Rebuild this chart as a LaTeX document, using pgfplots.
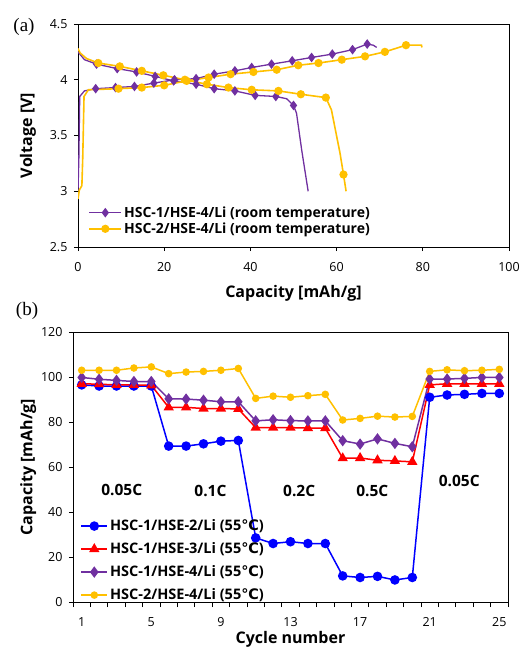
\documentclass[border=0pt]{standalone}
\usepackage{fontspec}
\setmainfont{Open Sans}
\newfontfamily\serifa{Liberation Serif}
\newfontfamily\dejavu{DejaVu Sans}
\usepackage{pgfplots}
\pgfplotsset{compat=1.18}
\definecolor{cpur}{RGB}{112,48,160}
\definecolor{corg}{RGB}{255,192,0}
\definecolor{cblu}{RGB}{0,0,255}
\definecolor{cred}{RGB}{255,0,0}
\pgfplotsset{
  common/.style={
    scale only axis,
    axis line style={black, line width=0.8pt},
    tick style={black, line width=0.8pt},
    tick align=outside,
    major tick length=4pt,
    xtick pos=bottom, ytick pos=left,
    /pgf/number format/assume math mode=true,
    ticklabel style={font=\fontsize{12.5}{14}\selectfont},
    xticklabel style={yshift=-8pt},
    yticklabel style={xshift=-3pt},
    label style={font=\bfseries\fontsize{16}{18}\selectfont},
    legend style={draw=none, fill=none},
    legend cell align=left,
  },
}
\begin{document}
\begin{tikzpicture}[x=1pt,y=1pt]
\useasboundingbox (0,0) rectangle (521,-653);
\node[font=\serifa\fontsize{19}{21}\selectfont] at (24,-27) {(a)};
\node[font=\serifa\fontsize{19}{21}\selectfont] at (27,-311) {(b)};
% ---------------- (a)
\begin{axis}[common,
  at={(78pt,-247pt)}, anchor=south west,
  width=431pt, height=223pt,
  xmin=0, xmax=100, ymin=2.5, ymax=4.5,
  xtick={0,20,...,100}, ytick={2.5,3,...,4.5},
  yticklabel style={/pgf/number format/fixed},
  xlabel={Capacity [mAh/g]}, ylabel={Voltage [V]},
  xlabel style={at={(axis description cs:0.5,0)}, anchor=center, yshift=-46pt},
  ylabel style={at={(axis description cs:-0.116,0.5)}, anchor=center},
  legend style={at={(axis description cs:0.017,0.20)}, anchor=north west, row sep=0pt, font=\bfseries\fontsize{14}{16}\selectfont},
  legend image code/.code={\draw[mark indices={2}] plot coordinates {(0pt,0pt) (16pt,0pt) (32pt,0pt)};},
]
\addplot[cpur, line width=1.3pt, mark=diamond*, mark size=3.8pt, mark options={solid}, mark indices={5,...,19}] coordinates {
(0,3.00) (0.2,3.3) (0.4,3.85) (1.5,3.90) (4.1,3.92) (8.7,3.93) (13.1,3.94) (17.6,3.97) (22.4,4.00) (27.4,4.01) (31.6,4.05) (36.4,4.08) (40.3,4.11) (44.9,4.14) (49.7,4.17) (54.2,4.20) (59.0,4.23) (63.7,4.27) (67.1,4.32) (68.5,4.31) (69.3,4.29)};
\addlegendentry{HSC-1/HSE-4/Li (room temperature)}
\addplot[cpur, line width=1.3pt, mark=diamond*, mark size=3.8pt, mark indices={3,...,12,14}, forget plot] coordinates {
(0,4.25) (1.5,4.18) (4.3,4.14) (9.1,4.10) (13.6,4.07) (17.9,4.03) (22.2,3.99) (27.4,3.96) (31.6,3.92) (36.4,3.90) (41.1,3.86) (45.9,3.85) (48.4,3.83) (50.0,3.77) (50.7,3.70) (51.9,3.37) (53.4,3.00)};
\addplot[corg, line width=1.6pt, mark=*, mark size=3.3pt, mark indices={7,...,20}] coordinates {
(0,2.93) (0.3,3.01) (0.9,3.05) (1.1,3.3) (1.4,3.85) (2.4,3.91) (9.4,3.92) (14.8,3.93) (20.0,3.95) (25.2,3.99) (30.3,4.02) (35.4,4.05) (40.7,4.07) (46.1,4.09) (51.1,4.13) (55.8,4.15) (61.2,4.18) (66.6,4.21) (71.2,4.25) (76.1,4.31) (79.7,4.31) (79.8,4.29)};
\addlegendentry{HSC-2/HSE-4/Li (room temperature)}
\addplot[corg, line width=1.6pt, mark=*, mark size=3.3pt, mark indices={4,...,14,17}, forget plot] coordinates {
(0,4.28) (0.5,4.24) (2,4.19) (4.7,4.15) (9.7,4.12) (14.8,4.08) (19.8,4.04) (24.8,4.00) (29.9,3.96) (34.9,3.93) (40.3,3.91) (46.5,3.90) (51.7,3.87) (57.5,3.84) (58.8,3.73) (60.8,3.34) (61.6,3.15) (62.2,3.00)};
\end{axis}
% ---------------- (b)
\begin{axis}[common,
  at={(73pt,-602pt)}, anchor=south west,
  width=435pt, height=270pt,
  xmin=0.5, xmax=25.5, ymin=0, ymax=120,
  xtick={1,5,...,25}, ytick={0,20,...,120},
  major x tick style={draw=none},
  minor xtick={0.5,1.5,...,25.5},
  minor tick length=5pt,
  xlabel={Cycle number}, ylabel={Capacity [mAh/g]},
  xlabel style={at={(axis description cs:0.5,0)}, anchor=center, yshift=-37pt},
  ylabel style={at={(axis description cs:-0.103,0.5)}, anchor=center},
  legend style={at={(axis description cs:0.01,0.32)}, anchor=north west, row sep=6.5pt, font=\bfseries\fontsize{14.5}{16}\selectfont},
  legend image code/.code={\draw[mark indices={2}] plot coordinates {(0pt,0pt) (13pt,0pt) (26pt,0pt)};},
]
\addplot[cblu, line width=1.5pt, mark=*, mark size=4pt] coordinates {
(1,96.5) (2,96) (3,96) (4,96) (5,96) (6,69.3) (7,69.3) (8,70.3) (9,71.5) (10,71.8) (11,28.5) (12,26) (13,26.8) (14,26) (15,26) (16,11.6) (17,10.9) (18,11.4) (19,9.8) (20,10.9) (21,91) (22,92) (23,92.3) (24,92.7) (25,92.7)};
\addlegendentry{HSC-1/HSE-2/Li (55{\dejavu ℃})}
\addplot[cred, line width=1.5pt, mark=triangle*, mark size=4.5pt] coordinates {
(1,97) (2,96.8) (3,96.5) (4,96.5) (5,96.3) (6,86.5) (7,86.5) (8,86) (9,86) (10,85.8) (11,77.5) (12,77.5) (13,77.5) (14,77.3) (15,77.3) (16,63.9) (17,64) (18,63) (19,62.7) (20,62.3) (21,96.5) (22,97) (23,97) (24,97) (25,97)};
\addlegendentry{HSC-1/HSE-3/Li (55{\dejavu ℃})}
\addplot[cpur, line width=1.5pt, mark=diamond*, mark size=4.5pt] coordinates {
(1,99.8) (2,99) (3,98.5) (4,98) (5,98) (6,90.3) (7,90.2) (8,89.7) (9,89) (10,89) (11,80.5) (12,81) (13,80.6) (14,80.5) (15,80.5) (16,71.7) (17,70.2) (18,72.5) (19,70.5) (20,69) (21,99.1) (22,99.1) (23,99.4) (24,99.8) (25,99.8)};
\addlegendentry{HSC-1/HSE-4/Li (55{\dejavu ℃})}
\addplot[corg, line width=1.5pt, mark=*, mark size=3pt] coordinates {
(1,103) (2,103) (3,103) (4,104) (5,104.5) (6,101.5) (7,102.2) (8,102.5) (9,103) (10,103.8) (11,90.5) (12,91.5) (13,91) (14,91.7) (15,92.3) (16,80.9) (17,81.6) (18,82.6) (19,82.2) (20,82.5) (21,102.5) (22,103.2) (23,102.8) (24,103) (25,103.4)};
\addlegendentry{HSC-2/HSE-4/Li (55{\dejavu ℃})}
\node[font=\bfseries\fontsize{15.5}{17}\selectfont] at (axis cs:3.3,50) {0.05C};
\node[font=\bfseries\fontsize{15.5}{17}\selectfont] at (axis cs:8.4,49.5) {0.1C};
\node[font=\bfseries\fontsize{15.5}{17}\selectfont] at (axis cs:13.5,49.5) {0.2C};
\node[font=\bfseries\fontsize{15.5}{17}\selectfont] at (axis cs:17.7,49.5) {0.5C};
\node[font=\bfseries\fontsize{15.5}{17}\selectfont] at (axis cs:22.7,54) {0.05C};
\end{axis}
\end{tikzpicture}
\end{document}
